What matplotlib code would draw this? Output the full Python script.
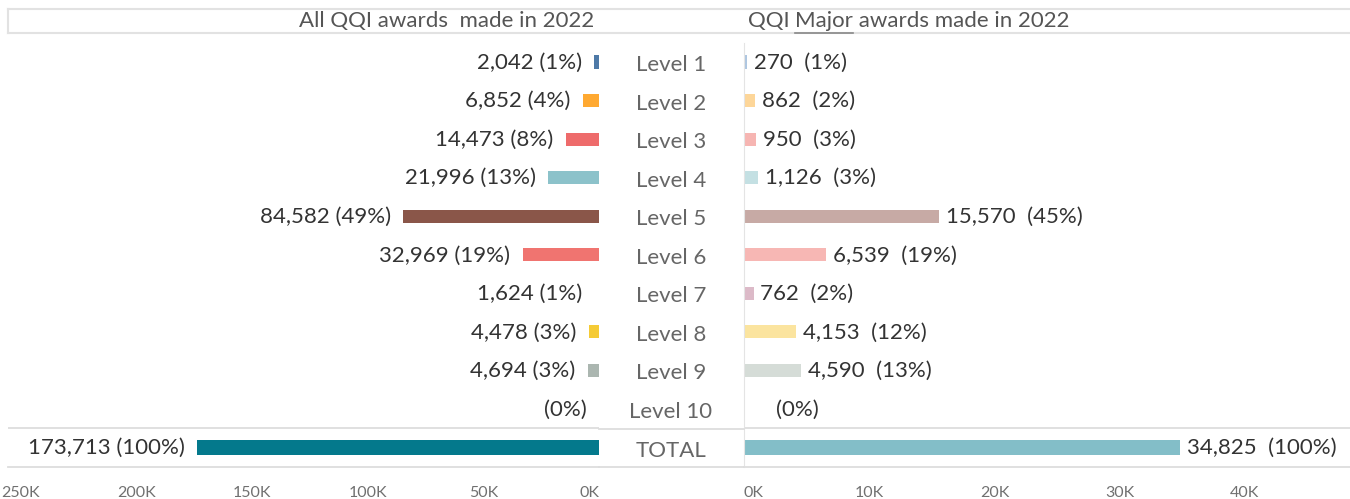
import matplotlib
matplotlib.use('Agg')
import matplotlib.pyplot as plt
from matplotlib.lines import Line2D

plt.rcParams['font.family'] = ['Lato', 'DejaVu Sans']

#---------data-----------
levels = ['Level 1', 'Level 2', 'Level 3', 'Level 4', 'Level 5', 'Level 6',
          'Level 7', 'Level 8', 'Level 9', 'Level 10', 'TOTAL']
all_vals = [2042, 6852, 14473, 21996, 84582, 32969, 1624, 4478, 4694, 0, 173713]
all_pct = [1, 4, 8, 13, 49, 19, 1, 3, 3, 0, 100]
major_vals = [270, 862, 950, 1126, 15570, 6539, 762, 4153, 4590, 0, 34825]
major_pct = [1, 2, 3, 3, 45, 19, 2, 12, 13, 0, 100]

all_colors = ['#4e79a7', '#ffa931', '#ee6b6b', '#8cc2ca', '#8a5649', '#f07470',
              '#ffffff', '#f5cb36', '#abb6b0', '#ffffff', '#04798c']
major_colors = ['#aec6e0', '#fdd699', '#f6b5b2', '#c4e0e3', '#c7aaa5', '#f7b7b4',
                '#dcbac8', '#fbe49f', '#d5dcd7', '#e6e6e6', '#83bec8']

left_ticks = [0, 50000, 100000, 150000, 200000, 250000]
right_ticks = [0, 10000, 20000, 30000, 40000]

W, H = 1350, 499
fig = plt.figure(figsize=(13.5, 4.99), dpi=100)

def fx(px):
    return px / W

def fy(py):
    return 1 - py / H

ax_bottom = fy(466.8)
ax_h = (466.8 - 42.7) / H
axL = fig.add_axes([fx(8), ax_bottom, fx(591), ax_h])
axR = fig.add_axes([fx(744), ax_bottom, fx(606), ax_h])

ypos = list(range(len(levels)))
heights = [0.34] * (len(levels) - 1) + [0.37]
txt_col = '#333333'
grid_col = '#dddddd'
fs = 16

#---------left panel (all awards)-----------
axL.barh(ypos, all_vals, height=heights, color=all_colors)
axL.set_xlim(255400, 0)
for i, (v, p) in enumerate(zip(all_vals, all_pct)):
    lab = f'{v:,} ({p}%)' if v else f'({p}%)'
    axL.annotate(lab, (v, i), xytext=(-9, -0.5), textcoords='offset points',
                 ha='right', va='center', fontsize=fs, color=txt_col)

#---------right panel (major awards)-----------
axR.barh(ypos, major_vals, height=heights, color=major_colors)
axR.set_xlim(0, 48400)
for i, (v, p) in enumerate(zip(major_vals, major_pct)):
    lab = f'{v:,}  ({p}%)' if v else f'({p}%)'
    off = 5 if v else 23
    axR.annotate(lab, (v, i), xytext=(off, -0.5), textcoords='offset points',
                 ha='left', va='center', fontsize=fs, color=txt_col)

for ax, ticks in [(axL, left_ticks), (axR, right_ticks)]:
    ax.set_ylim(10.5, -0.5)
    ax.set_yticks([])
    ax.set_xticks(ticks)
    ax.set_xticklabels([f'{t // 1000}K' for t in ticks])
    ax.tick_params(axis='x', length=0, pad=14, labelsize=11.5, labelcolor='#707070')
    for s in ax.spines.values():
        s.set_visible(False)
    ax.axhline(9.5, color=grid_col, lw=1.3)
    ax.axhline(10.5, color=grid_col, lw=1.3, clip_on=False)
    ax.set_facecolor('none')

axL.get_xticklabels()[0].set_horizontalalignment('right')
axR.get_xticklabels()[0].set_horizontalalignment('left')

axR.spines['left'].set_visible(True)
axR.spines['left'].set_color('#e4e4e4')
axR.spines['left'].set_linestyle((0, (3, 1)))

#---------middle level labels-----------
for i, lev in enumerate(levels):
    fig.text(fx(671), fy(65 + 38.56 * i), lev, ha='center', va='center',
             fontsize=fs, color='#666666')
for py in [429, 466.5]:
    fig.add_artist(Line2D([fx(599), fx(744)], [fy(py), fy(py)], color=grid_col, lw=1.3))

#---------header box and titles-----------
for py in [9, 33]:
    fig.add_artist(Line2D([fx(8), fx(1350)], [fy(py), fy(py)], color='#e2e2e2', lw=1.5))
fig.add_artist(Line2D([fx(8), fx(8)], [fy(9), fy(33)], color='#e2e2e2', lw=1.5))

title_col = '#555555'
fig.text(fx(447), fy(21), 'All QQI awards  made in 2022', ha='center', va='center',
         fontsize=fs, color=title_col)

fig.canvas.draw()
r = fig.canvas.get_renderer()
parts = ['QQI ', 'Major', ' awards made in 2022']
x = 748
for k, part in enumerate(parts):
    t = fig.text(fx(x), fy(21), part, ha='left', va='center', fontsize=fs, color=title_col)
    bb = t.get_window_extent(renderer=r)
    if k == 1:
        fig.add_artist(Line2D([fx(x), fx(x + bb.width)], [fy(32.5), fy(32.5)],
                              color='#888888', lw=1.2))
    x += bb.width

fig.savefig('out.png', dpi=100)
